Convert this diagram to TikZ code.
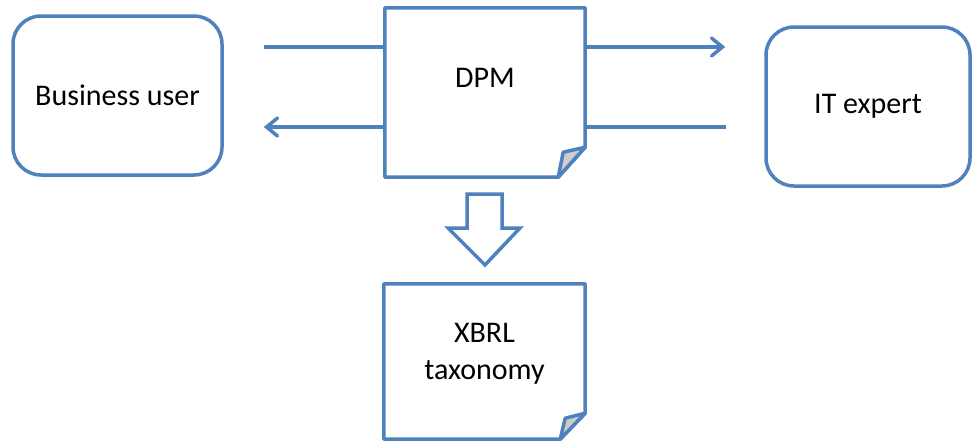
\documentclass[tikz,border=0pt]{standalone}
\usepackage{fontspec}
\setmainfont{Carlito}
\usetikzlibrary{arrows.meta}
\definecolor{officeblue}{HTML}{4F81BD}
\definecolor{foldgrey}{HTML}{CDCDCD}

% Page with a dog-eared lower right corner, drawn round an existing node.
% #1 node name, #2 fold width, #3 fold height, #4/#5 inner corner of the flap
\newcommand\foldedpage[5]{%
  \draw[officeblue, line width=3.5pt, fill=white, line join=round]
    (#1.north west) -- (#1.north east) -- ([yshift=#3]#1.south east)
    -- ([xshift=-#2]#1.south east) -- (#1.south west) -- cycle;
  \filldraw[draw=officeblue, fill=foldgrey, line width=3.5pt, line join=round]
    ([yshift=#3]#1.south east) -- ([xshift=#4, yshift=#5]#1.south east)
    -- ([xshift=-#2]#1.south east) -- cycle;}

\begin{document}
\begin{tikzpicture}[x=1pt, y=-1pt,
  every node/.style={font=\fontsize{30}{37}\selectfont, text=black, inner sep=0pt},
  party/.style={draw=officeblue, line width=3.5pt, rounded corners=28pt, fill=white,
    align=center},
  flow/.style={draw=officeblue, line width=3.5pt,
    -{Straight Barb[length=11pt, width=18pt, line cap=round]}},
]
\useasboundingbox (0,0) rectangle (972,442);

% the two actors
\node[party, minimum width=209pt, minimum height=159pt] (bu) at (117.5,95.5) {Business user};
\node[party, minimum width=204pt, minimum height=159pt] (it) at (868,106.5) {IT expert};

% free ends of the two flows that pass behind the DPM page
\coordinate (buout) at ([xshift=40pt]bu.east |- 0,47);
\coordinate (itin)  at ([xshift=-39pt]it.west |- 0,47);
\coordinate (itout) at ([xshift=-38pt]it.west |- 0,127);
\coordinate (buin)  at ([xshift=40pt]bu.east |- 0,127);
\draw[flow] (buout) -- (itin);
\draw[flow] (itout) -- (buin);

% DPM page on top of the flows
\node[minimum width=200pt, minimum height=169pt] (dpm) at (485,92.5) {};
\foldedpage{dpm}{27pt}{30pt}{-22pt}{25pt}
\node (dpmtext) at ([yshift=15pt]dpm.center) {DPM};

% XBRL taxonomy page
\node[minimum width=201pt, minimum height=155pt] (xbrl) at (484.5,361.5) {};
\foldedpage{xbrl}{25pt}{26pt}{-20pt}{21pt}
\node[align=center] (xbrltext) at ([yshift=8pt]xbrl.center) {XBRL\\taxonomy};

% hollow block arrow from DPM down to the taxonomy
\draw[officeblue, line width=3.5pt, fill=white, line join=miter]
  (467,194) -- (502,194) -- (502,228) -- (520,228) -- (485,265)
  -- (448,228) -- (467,228) -- cycle;
\end{tikzpicture}
\end{document}
